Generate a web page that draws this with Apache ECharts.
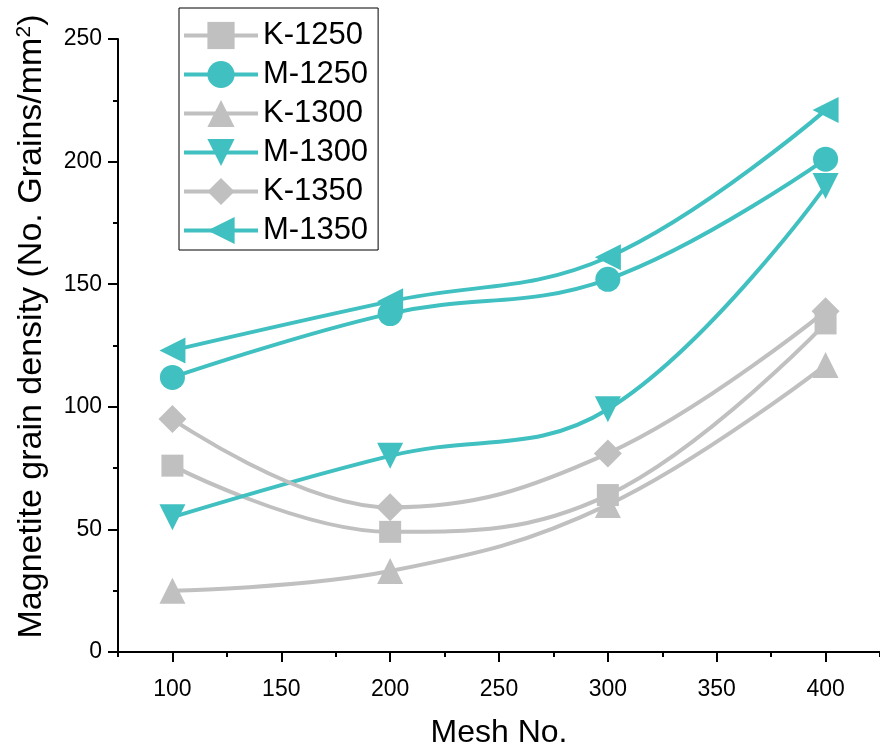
<!DOCTYPE html>
<html>
<head>
<meta charset="utf-8">
<script src="https://cdn.jsdelivr.net/npm/echarts@6/dist/echarts.min.js"></script>
<style>
  html, body { margin: 0; padding: 0; background: #fff; }
  #chart { width: 880px; height: 752px; }
</style>
</head>
<body>
<div id="chart"></div>
<script>
// 数据
var mesh = [100, 200, 300, 400];
var xMajorTicks = [100, 150, 200, 250, 300, 350, 400];
var k1250 = [76, 49, 64, 134];
var m1250 = [112, 138, 152, 201];
var k1300 = [25, 33, 60, 117];
var m1300 = [55, 80, 99, 190];
var k1350 = [95, 59, 81, 139];
var m1350 = [123, 143, 161, 221];

var gray = '#c0c0c0';
var teal = '#40c0c0';
var font = 'Liberation Sans, Arial, sans-serif';

function pairs(vals) {
    return mesh.map(function (m, i) { return [m, vals[i]]; });
}

function makeSeries(name, vals, color, symbol, size, rotate) {
    return {
        name: name,
        type: 'line',
        data: pairs(vals),
        smooth: 0.4,
        symbol: symbol,
        symbolSize: size,
        symbolRotate: rotate || 0,
        showAllSymbol: true,
        lineStyle: { color: color, width: 4 },
        itemStyle: { color: color, borderWidth: 0 },
        z: 3
    };
}

var myChart = echarts.init(document.getElementById('chart'));

var option = {
    backgroundColor: '#fff',
    animation: false,
    grid: { left: 118, right: 0, top: 39, bottom: 100, outerBoundsMode: 'none' },
    legend: {
        orient: 'vertical',
        left: 179,
        top: 8,
        padding: [12, 10, 4, 3],
        itemWidth: 74,
        itemHeight: 34,
        itemGap: 8,
        borderColor: '#000',
        borderWidth: 1,
        lineStyle: { width: 4 },
        textStyle: { fontFamily: font, fontSize: 31, color: '#000' },
        data: ['K-1250', 'M-1250', 'K-1300', 'M-1300', 'K-1350', 'M-1350']
    },
    xAxis: [{
        type: 'value',
        min: 75,
        max: 425,
        interval: 25,
        name: 'Mesh No.',
        nameLocation: 'middle',
        nameGap: 65,
        nameTextStyle: { fontFamily: font, fontSize: 32, color: '#000' },
        axisLine: { show: true, lineStyle: { color: '#000', width: 2 } },
        axisTick: { show: true, length: 10, lineStyle: { color: '#000', width: 2 }, customValues: xMajorTicks },
        axisLabel: { fontFamily: font, fontSize: 23, color: '#000', margin: 26, customValues: xMajorTicks },
        splitLine: { show: false }
    }, {
        type: 'value',
        min: 75,
        max: 425,
        interval: 25,
        position: 'bottom',
        axisLine: { show: false },
        axisTick: { show: true, length: 5, lineStyle: { color: '#000', width: 2 } },
        axisLabel: { show: false },
        splitLine: { show: false }
    }],
    yAxis: {
        type: 'value',
        min: 0,
        max: 250,
        interval: 50,
        name: 'Magnetite grain density (No. Grains/mm{sup|2})',
        nameLocation: 'middle',
        nameGap: 69,
        nameTextStyle: {
            fontFamily: font, fontSize: 34, color: '#000',
            padding: [0, 0, 0, 38],
            rich: {
                sup: { fontFamily: font, fontSize: 21, color: '#000', verticalAlign: 'top', padding: [0, 0, 14, 0] }
            }
        },
        axisLine: { show: true, lineStyle: { color: '#000', width: 2 } },
        axisTick: { show: true, length: 10, lineStyle: { color: '#000', width: 2 } },
        minorTick: { show: true, splitNumber: 2, length: 5, lineStyle: { color: '#000', width: 2 } },
        axisLabel: { fontFamily: font, fontSize: 23, color: '#000', margin: 16 },
        splitLine: { show: false },
        minorSplitLine: { show: false }
    },
    series: [
        makeSeries('K-1250', k1250, gray, 'rect', 22),
        makeSeries('M-1250', m1250, teal, 'circle', 25),
        makeSeries('K-1300', k1300, gray, 'triangle', 26),
        makeSeries('M-1300', m1300, teal, 'triangle', 26, 180),
        makeSeries('K-1350', k1350, gray, 'diamond', 28),
        makeSeries('M-1350', m1350, teal, 'triangle', 26, 90)
    ]
};

myChart.setOption(option);
</script>
</body>
</html>
